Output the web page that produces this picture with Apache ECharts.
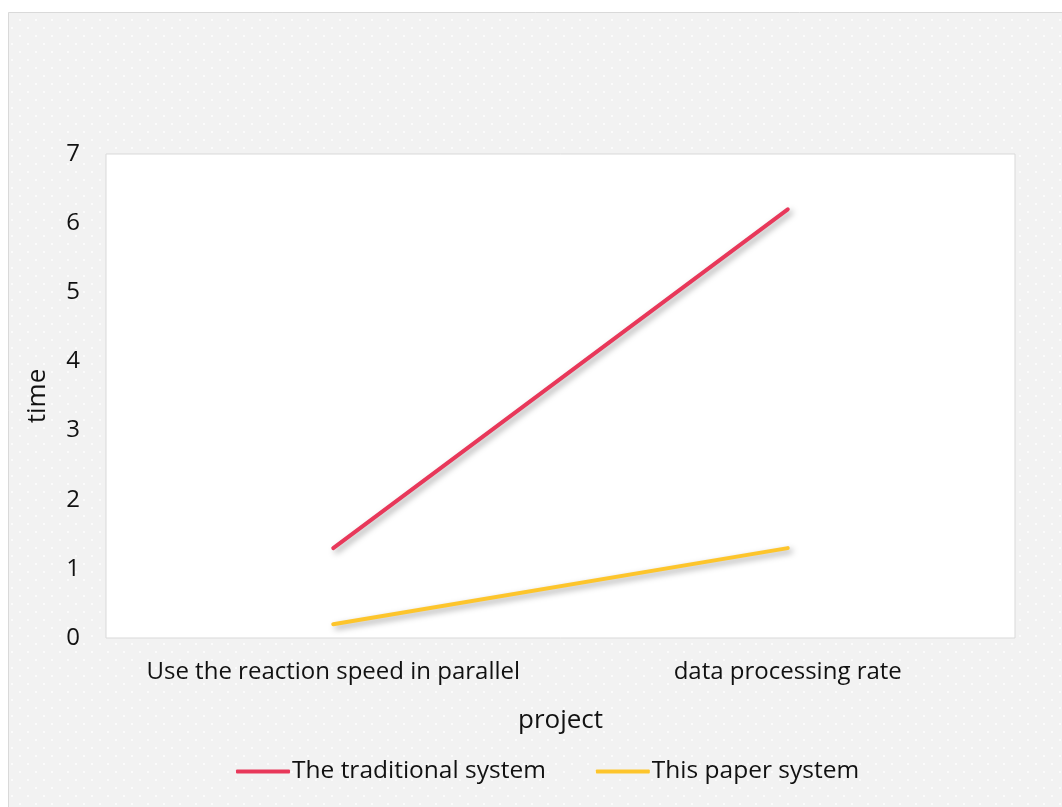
<!DOCTYPE html>
<html>
<head>
<meta charset="utf-8">
<script src="https://cdn.jsdelivr.net/npm/echarts@6/dist/echarts.min.js"></script>
<style>
  html, body { margin: 0; padding: 0; background: #ffffff; }
  #main { width: 1062px; height: 807px; }
</style>
</head>
<body>
<div id="main"></div>
<script>
var categories = ["Use the reaction speed in parallel", "data processing rate"];
var traditional = [1.3, 6.2];
var paperSystem = [0.2, 1.3];

// dotted background pattern
var pat = document.createElement("canvas");
pat.width = 16;
pat.height = 16;
var ctx = pat.getContext("2d");
ctx.fillStyle = "#f2f2f2";
ctx.fillRect(0, 0, 16, 16);
ctx.fillStyle = "#fbfbfb";
ctx.fillRect(3, 3, 2, 2);
ctx.fillRect(11, 11, 2, 2);

var fontFam = "'Open Sans', 'Noto Sans', sans-serif";
var shadow = {
  shadowColor: "rgba(0,0,0,0.35)",
  shadowBlur: 6,
  shadowOffsetX: 3,
  shadowOffsetY: 3
};

var chart = echarts.init(document.getElementById("main"));
var option = {
  backgroundColor: "#ffffff",
  graphic: [
    {
      type: "rect",
      z: -10,
      shape: { x: 8.5, y: 12.5, width: 1060, height: 800 },
      style: { fill: { image: pat, repeat: "repeat" }, stroke: "#d9d9d9", lineWidth: 1 }
    }
  ],
  grid: {
    left: 106,
    top: 154,
    width: 909,
    height: 484,
    show: true,
    backgroundColor: "#ffffff",
    borderColor: "#d9d9d9",
    borderWidth: 1
  },
  legend: {
    bottom: 18,
    left: 231,
    itemWidth: 54,
    itemHeight: 4,
    itemGap: 50,
    icon: "roundRect",
    textStyle: { fontFamily: fontFam, fontSize: 24.5, color: "#111", padding: [0, 0, 0, -3] },
    data: ["The traditional system", "This paper system"]
  },
  xAxis: {
    type: "category",
    data: categories,
    name: "project",
    nameLocation: "middle",
    nameGap: 70,
    nameTextStyle: { fontFamily: fontFam, fontSize: 26, color: "#111" },
    axisLine: { show: false },
    axisTick: { show: false },
    axisLabel: { fontFamily: fontFam, fontSize: 24, color: "#111", margin: 22, interval: 0 }
  },
  yAxis: {
    type: "value",
    min: 0,
    max: 7,
    interval: 1,
    name: "time",
    nameLocation: "middle",
    nameGap: 55,
    nameTextStyle: { fontFamily: fontFam, fontSize: 26, color: "#111" },
    axisLine: { show: false },
    axisTick: { show: false },
    splitLine: { show: false },
    axisLabel: { fontFamily: fontFam, fontSize: 24, color: "#111", margin: 26 }
  },
  series: [
    {
      name: "The traditional system",
      type: "line",
      data: traditional,
      symbol: "none",
      color: "#e8385a",
      lineStyle: Object.assign({ width: 4, color: "#e8385a", cap: "round" }, shadow)
    },
    {
      name: "This paper system",
      type: "line",
      data: paperSystem,
      symbol: "none",
      color: "#fdc52c",
      lineStyle: Object.assign({ width: 4, color: "#fdc52c", cap: "round" }, shadow)
    }
  ]
};
chart.setOption(option);
</script>
</body>
</html>
